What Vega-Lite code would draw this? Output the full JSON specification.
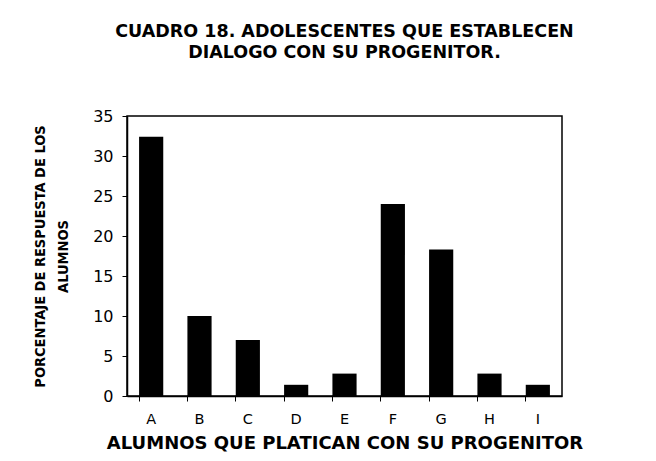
{
  "$schema": "https://vega.github.io/schema/vega-lite/v6.json",
  "autosize": "none",
  "width": 435,
  "height": 280,
  "padding": {"left": 127, "top": 116, "right": 94, "bottom": 65},
  "background": "white",
  "title": {
    "text": ["CUADRO 18. ADOLESCENTES QUE ESTABLECEN", "DIALOGO CON SU PROGENITOR."],
    "font": "DejaVu Sans",
    "fontSize": 17.5,
    "fontWeight": "bold",
    "color": "black",
    "anchor": "middle",
    "lineHeight": 21,
    "offset": 47
  },
  "data": {
    "values": [
      {"grupo": "A", "porcentaje": 32.4},
      {"grupo": "B", "porcentaje": 10.0},
      {"grupo": "C", "porcentaje": 7.0},
      {"grupo": "D", "porcentaje": 1.4},
      {"grupo": "E", "porcentaje": 2.8},
      {"grupo": "F", "porcentaje": 24.0},
      {"grupo": "G", "porcentaje": 18.3},
      {"grupo": "H", "porcentaje": 2.8},
      {"grupo": "I", "porcentaje": 1.4}
    ]
  },
  "mark": {"type": "bar", "color": "black"},
  "encoding": {
    "x": {
      "field": "grupo",
      "type": "nominal",
      "sort": null,
      "scale": {"paddingInner": 0.5, "paddingOuter": 0.25},
      "axis": {
        "title": "ALUMNOS QUE PLATICAN CON SU PROGENITOR",
        "titleFont": "DejaVu Sans",
        "titleFontSize": 18,
        "titleFontWeight": "bold",
        "titleColor": "black",
        "titlePadding": 9,
        "labelAngle": 0,
        "labelFont": "DejaVu Sans",
        "labelFontSize": 14.5,
        "labelColor": "black",
        "labelPadding": 11,
        "bandPosition": 0,
        "tickColor": "black",
        "tickSize": 5,
        "domainColor": "black",
        "domainWidth": 1.5
      }
    },
    "y": {
      "field": "porcentaje",
      "type": "quantitative",
      "scale": {"domain": [0, 35], "nice": false},
      "axis": {
        "values": [0, 5, 10, 15, 20, 25, 30, 35],
        "title": ["PORCENTAJE DE RESPUESTA DE LOS", "ALUMNOS"],
        "titleFont": "DejaVu Sans Condensed",
        "titleFontSize": 14.5,
        "titleFontWeight": "bold",
        "titleColor": "black",
        "titleLineHeight": 23,
        "titlePadding": 22,
        "labelFont": "DejaVu Sans",
        "labelFontSize": 16,
        "labelColor": "black",
        "labelPadding": 9,
        "grid": false,
        "tickColor": "black",
        "tickSize": 5,
        "domainColor": "black",
        "domainWidth": 1.5
      }
    }
  },
  "config": {
    "view": {"stroke": "black", "strokeWidth": 1.5}
  }
}
